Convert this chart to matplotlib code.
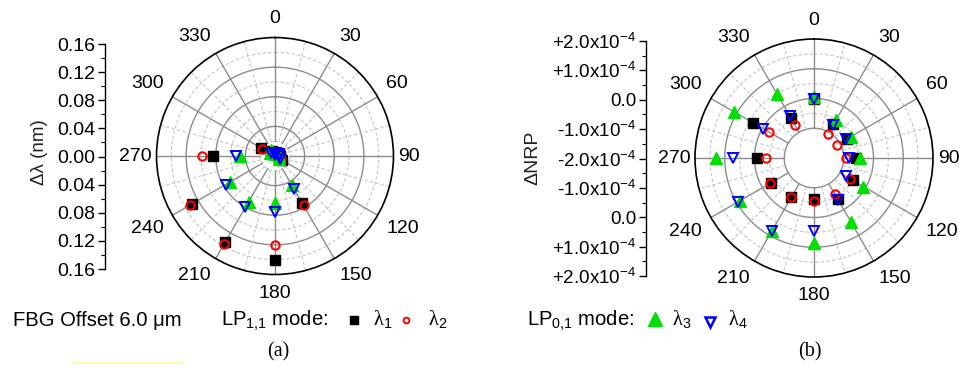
import numpy as np
import matplotlib
matplotlib.use("Agg")
import matplotlib.pyplot as plt
from matplotlib.lines import Line2D
from matplotlib.ticker import AutoMinorLocator

plt.rcParams['font.family'] = ['Liberation Sans', 'DejaVu Sans']
plt.rcParams['mathtext.fontset'] = 'custom'
plt.rcParams['mathtext.rm'] = 'Liberation Sans'
plt.rcParams['mathtext.it'] = 'Liberation Sans:italic'
plt.rcParams['mathtext.bf'] = 'Liberation Sans:bold'

# fiber rotation angle (deg)
angles = [0, 30, 60, 90, 120, 150, 180, 210, 240, 270, 300, 330]
angle_labels = [str(a) for a in angles]

# (a) wavelength shift, nm (LP11 mode lambda1/lambda2, LP01 mode lambda3/lambda4)
a_lam1 = [0.004, 0.005, 0.006, 0.007, 0.011, 0.074, 0.141, 0.134, 0.129, 0.084, 0.022, 0.008]
a_lam2 = [0.004, 0.005, 0.006, 0.006, 0.009, 0.077, 0.120, 0.137, 0.132, 0.098, 0.020, 0.008]
a_lam3 = [0.003, 0.004, 0.005, 0.006, 0.007, 0.045, 0.064, 0.071, 0.070, 0.047, 0.008, 0.010]
a_lam4 = [0.002, 0.004, 0.006, 0.006, 0.008, 0.052, 0.075, 0.080, 0.077, 0.053, 0.007, 0.004]

# (b) normalized reflected power change, units of 1e-4
b_lam1 = [-0.03, -0.69, -0.73, -0.60, -0.49, -0.40, -0.63, -0.47, -0.33, -0.10, 0.38, -0.44]
b_lam2 = [-0.03, -1.05, -1.10, -0.92, -0.62, -0.61, -0.54, -0.47, -0.30, -0.38, -0.24, -0.71]
b_lam3 = [0.04, -0.53, -0.58, -0.45, -0.08, 0.47, 0.87, 0.85, 0.89, 1.28, 1.11, 0.47]
b_lam4 = [-0.03, -0.70, -0.75, -0.83, -0.76, -0.38, 0.45, 0.82, 0.94, 0.72, -0.03, -0.38]

# side scale bars
a_ticks = [-0.16, -0.12, -0.08, -0.04, 0.0, 0.04, 0.08, 0.12, 0.16]
a_tick_labels = ['0.16', '0.12', '0.08', '0.04', '0.00', '0.04', '0.08', '0.12', '0.16']
b_ticks = [-4, -3, -2, -1, 0, 1, 2, 3, 4]
b_tick_labels = ['+2.0x10$^{-4}$', '+1.0x10$^{-4}$', '0.0', '-1.0x10$^{-4}$', '-2.0x10$^{-4}$',
                 '-1.0x10$^{-4}$', '0.0', '+1.0x10$^{-4}$', '+2.0x10$^{-4}$']

W, H = 959, 367
fig = plt.figure(figsize=(W / 100, H / 100), dpi=100)


def px(x, y):
    return x / W, 1 - y / H


def polar_panel(rect, rmin, rmax, majors, minors, rhole, series):
    ax = fig.add_axes(rect, projection='polar')
    ax.set_theta_zero_location('N')
    ax.set_theta_direction(-1)
    ax.set_ylim(rmin, rmax)
    ax.set_xticks(np.deg2rad(angles))
    ax.set_xticklabels([])
    ax.tick_params(axis='x', length=0)
    ax.set_yticks([])
    ax.grid(False)
    ax.spines['polar'].set_linewidth(1.2)
    ax.spines['polar'].set_color('black')

    # angle labels anchored by their edge, Origin style
    for a, lab in zip(angles, angle_labels):
        s, c = np.sin(np.deg2rad(a)), np.cos(np.deg2rad(a))
        ha = 'left' if s > 0.1 else ('right' if s < -0.1 else 'center')
        va = 'bottom' if c > 0.1 else ('top' if c < -0.1 else 'center')
        d = 0.5 * (1.04 if abs(s) > 0.99 else 1.085)
        ax.text(0.5 + d * s, 0.5 + d * c, lab, transform=ax.transAxes,
                ha=ha, va=va, fontsize=14)

    th = np.linspace(0, 2 * np.pi, 361)
    for r in majors:
        ax.plot(th, np.full_like(th, r), color='#8c8c8c', lw=1.0, zorder=1)
    for r in minors:
        ax.plot(th, np.full_like(th, r), color='#c4c4c4', lw=0.8, ls=(0, (3, 2)), zorder=1)
    for a in range(0, 360, 30):
        t = np.deg2rad(a)
        ax.plot([t, t], [rhole, rmax], color='#8c8c8c', lw=1.0, zorder=1)
        t2 = np.deg2rad(a + 15)
        ax.plot([t2, t2], [rhole, rmax], color='#c4c4c4', lw=0.8, ls=(0, (3, 2)), zorder=1)

    t = np.deg2rad(angles)
    s1, s2, s3, s4 = series
    ax.plot(t, s1, ls='none', marker='s', ms=6.5, color='black', zorder=3, clip_on=False)
    ax.plot(t, s2, ls='none', marker='o', ms=6, mfc='none', mec='red', mew=1.5, zorder=4, clip_on=False)
    ax.plot(t, s3, ls='none', marker='^', ms=9, color='#00e000', zorder=5, clip_on=False)
    ax.plot(t, s4, ls='none', marker='v', ms=7.5, mfc='none', mec='blue', mew=1.4, zorder=6, clip_on=False)
    return ax


polar_panel([0.1632, 0.252, 0.2471, 0.6458], 0, 0.16,
            [0.04, 0.08, 0.12], [0.02, 0.06, 0.10, 0.14], 0.02,
            (a_lam1, a_lam2, a_lam3, a_lam4))
polar_panel([0.7247, 0.2452, 0.2482, 0.6485], -2, 2,
            [-1, 0, 1], [-0.5, 0.5, 1.5], -1,
            (b_lam1, b_lam2, b_lam3, b_lam4))


def side_axis(x, ytop, ybot, lim, ticks, labels, size):
    sa = fig.add_axes([x / W, 1 - ybot / H, 0.0001, (ybot - ytop) / H])
    sa.patch.set_visible(False)
    for k in ['top', 'right', 'bottom']:
        sa.spines[k].set_visible(False)
    sa.spines['left'].set_linewidth(1.0)
    sa.set_ylim(-lim, lim)
    sa.set_yticks(ticks)
    sa.set_yticklabels(labels)
    sa.yaxis.set_minor_locator(AutoMinorLocator(2))
    sa.tick_params(axis='y', which='major', length=5, width=1, direction='out', labelsize=size, pad=2)
    sa.tick_params(axis='y', which='minor', length=3, width=0.8, direction='out')
    sa.set_xticks([])
    return sa


side_axis(105, 44, 269, 0.16, a_ticks, a_tick_labels, 14)
side_axis(646, 41, 276, 4, b_ticks, b_tick_labels, 13.5)

fig.text(*px(40, 152), 'Δλ (nm)', rotation=90, ha='center', va='center', fontsize=13.5, color='#222222')
fig.text(*px(533, 158), 'ΔNRP', rotation=90, ha='center', va='center', fontsize=14, color='#222222')

# bottom caption / legend
base = 326
fig.text(*px(12.7, base), 'FBG Offset 6.0 μm', fontsize=14.6, va='baseline')
fig.text(*px(221, base), 'LP$_{1{,}1}$ mode:', fontsize=14.6, va='baseline')
fig.text(*px(373, base), 'λ$_1$', fontsize=14.6, va='baseline', family='Liberation Serif')
fig.text(*px(428, base), 'λ$_2$', fontsize=14.6, va='baseline', family='Liberation Serif')
fig.text(*px(527, base), 'LP$_{0{,}1}$ mode:', fontsize=14.6, va='baseline')
fig.text(*px(672, base), 'λ$_3$', fontsize=14.6, va='baseline', family='Liberation Serif')
fig.text(*px(728, base), 'λ$_4$', fontsize=14.6, va='baseline', family='Liberation Serif')
fig.text(*px(278, 352), '(a)', fontsize=14.5, ha='center', va='center', family='Liberation Serif')
fig.text(*px(810, 352), '(b)', fontsize=14.5, ha='center', va='center', family='Liberation Serif')

keys = [
    (354, 320, dict(marker='s', ms=5.2, color='black')),
    (406, 320, dict(marker='o', ms=4.2, mfc='none', mec='red', mew=1.4)),
    (655, 319, dict(marker='^', ms=10, color='#00e000')),
    (710, 322, dict(marker='v', ms=7.5, mfc='none', mec='blue', mew=1.8)),
]
for kx, ky, kw in keys:
    x, y = px(kx, ky)
    fig.add_artist(Line2D([x], [y], transform=fig.transFigure, ls='none', **kw))

x0, y0 = px(73, 363)
x1, _ = px(183, 363)
fig.add_artist(Line2D([x0, x1], [y0, y0], transform=fig.transFigure, color='#fff7a0', lw=1.2))

fig.savefig('out.png', dpi=100)
